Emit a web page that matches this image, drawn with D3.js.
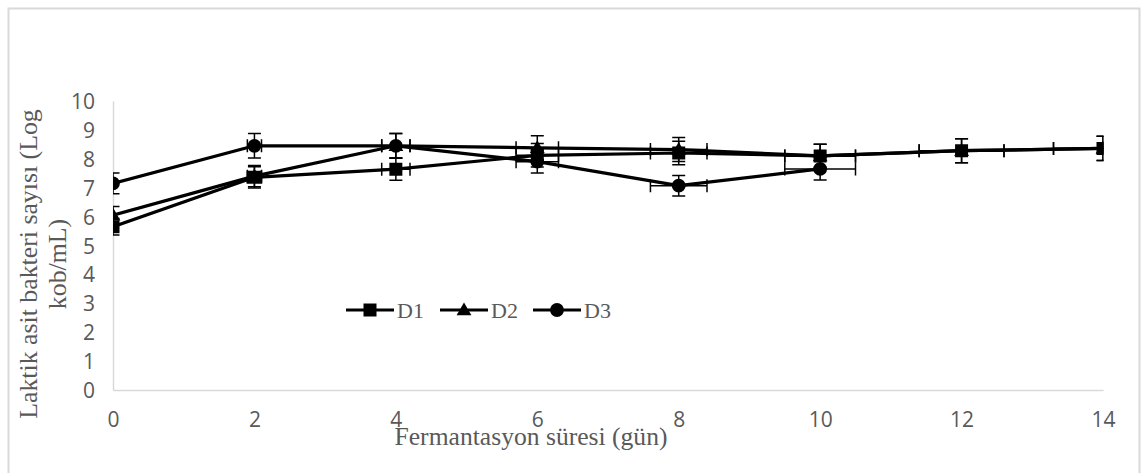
<!DOCTYPE html>
<html><head><meta charset="utf-8">
<script src="https://cdn.jsdelivr.net/npm/d3@7/dist/d3.min.js"></script>
<style>
html,body{margin:0;padding:0;background:#fff;}
svg{display:block;}
</style></head>
<body>
<svg id="chart" width="1143" height="473"></svg>
<script>
// ---- data ----
const days = [0, 2, 4, 6, 8, 10, 12, 14];
const seriesNames = ["D1", "D2", "D3"];
const valuesD1 = [5.65, 7.36, 7.64, 8.12, 8.2, 8.1, 8.28, 8.36];
const valuesD2 = [6.05, 7.4, 8.45, 8.38, 8.32, 8.1, 8.28, 8.36];
const valuesD3 = [7.15, 8.45, 8.45, 7.9, 7.07, 7.65];
const yTicks = [0, 1, 2, 3, 4, 5, 6, 7, 8, 9, 10];
const xTicks = [0, 2, 4, 6, 8, 10, 12, 14];
const errPercent = 5; // percentage error bars (x and y)
const yTitleLines = ["Laktik asit bakteri sayısı (Log", "kob/mL)"];
const xTitle = "Fermantasyon süresi (gün)";

const svg = d3.select("#chart");
const pLeft = 113, pRight = 1103, pTop = 101, pBottom = 390;

svg.append("rect").attr("x", 8.5).attr("y", 8.5).attr("width", 1131).attr("height", 475)
  .attr("fill", "#fff").attr("stroke", "#d9d9d9").attr("stroke-width", 2);

const x = d3.scaleLinear().domain([0, 14]).range([pLeft, pRight]);
const y = d3.scaleLinear().domain([0, 10]).range([pBottom, pTop]);

const xAxis = d3.axisBottom(x).tickValues(xTicks).tickSize(0).tickPadding(22).tickFormat(d3.format("d"));
const yAxis = d3.axisLeft(y).tickValues(yTicks).tickSize(0).tickPadding(18).tickFormat(d3.format("d"));

const gx = svg.append("g").attr("transform", `translate(0,${pBottom})`).call(xAxis);
const gy = svg.append("g").attr("transform", `translate(${pLeft},0)`).call(yAxis);
[gx, gy].forEach(g => {
  g.select(".domain").attr("stroke", "#d9d9d9").attr("stroke-width", 1.5);
  g.selectAll("text").attr("font-family", "'Open Sans', sans-serif").attr("font-size", 21).attr("fill", "#595959");
});
gx.selectAll("text").attr("dy", "0.71em");
gy.selectAll("text").attr("dy", "0.36em");

svg.append("clipPath").attr("id", "plotclip").append("rect")
  .attr("x", pLeft).attr("y", pTop - 20).attr("width", pRight - pLeft + 0.5).attr("height", pBottom - pTop + 40);

const plot = svg.append("g").attr("clip-path", "url(#plotclip)");

const series = [
  {name: seriesNames[0], vals: valuesD1, shape: "square"},
  {name: seriesNames[1], vals: valuesD2, shape: "triangle"},
  {name: seriesNames[2], vals: valuesD3, shape: "circle"}
];

const symbolFor = s => s === "square" ? d3.symbolSquare : s === "triangle" ? d3.symbolTriangle : d3.symbolCircle;
const sizeFor = s => s === "square" ? 13 * 13 : s === "triangle" ? 95 : 150;

function drawMarker(g, shape, cx, cy) {
  g.append("path").attr("d", d3.symbol().type(symbolFor(shape)).size(sizeFor(shape))())
    .attr("transform", `translate(${cx},${cy + (shape === "triangle" ? 1 : 0)})`)
    .attr("fill", "#000");
}

const lineGen = d3.line().x(d => x(d[0])).y(d => y(d[1]));
const cap = 6.5;

series.forEach(s => {
  const pts = s.vals.map((v, i) => [days[i], v]);
  const g = plot.append("g");
  pts.forEach(([dx, v]) => {
    const ey = v * errPercent / 100, ex = dx * errPercent / 100;
    const px = x(dx), py = y(v);
    const eb = g.append("g").attr("stroke", "#000").attr("stroke-width", 1.5).attr("fill", "none");
    eb.append("line").attr("x1", px).attr("x2", px).attr("y1", y(v + ey)).attr("y2", y(v - ey));
    eb.append("line").attr("x1", px - cap).attr("x2", px + cap).attr("y1", y(v + ey)).attr("y2", y(v + ey));
    eb.append("line").attr("x1", px - cap).attr("x2", px + cap).attr("y1", y(v - ey)).attr("y2", y(v - ey));
    if (ex > 0) {
      eb.append("line").attr("x1", x(dx - ex)).attr("x2", x(dx + ex)).attr("y1", py).attr("y2", py);
      eb.append("line").attr("x1", x(dx - ex)).attr("x2", x(dx - ex)).attr("y1", py - cap).attr("y2", py + cap);
      eb.append("line").attr("x1", x(dx + ex)).attr("x2", x(dx + ex)).attr("y1", py - cap).attr("y2", py + cap);
    }
  });
  g.append("path").attr("d", lineGen(pts)).attr("fill", "none").attr("stroke", "#000")
    .attr("stroke-width", 3.2).attr("stroke-linejoin", "round");
  pts.forEach(([dx, v]) => drawMarker(g, s.shape, x(dx), y(v)));
});

// legend
const legendY = 310;
const legendX = [346, 440, 533];
series.forEach((s, i) => {
  const lg = svg.append("g");
  const x0 = legendX[i];
  lg.append("line").attr("x1", x0).attr("x2", x0 + 48).attr("y1", legendY).attr("y2", legendY)
    .attr("stroke", "#000").attr("stroke-width", 3.2);
  drawMarker(lg, s.shape, x0 + 24, legendY);
  lg.append("text").attr("x", x0 + 51).attr("y", legendY).attr("dy", "0.35em")
    .attr("font-family", "'Liberation Serif', 'Times New Roman', serif").attr("font-size", 22)
    .attr("fill", "#595959").text(s.name);
});

// axis titles
svg.append("text").attr("x", 531).attr("y", 445).attr("text-anchor", "middle")
  .attr("font-family", "'Liberation Serif', 'Times New Roman', serif").attr("font-size", 25.6)
  .attr("fill", "#595959").text(xTitle);

const yt = svg.append("text").attr("transform", "translate(37,264) rotate(-90)").attr("text-anchor", "middle")
  .attr("font-family", "'Liberation Serif', 'Times New Roman', serif").attr("font-size", 25.8)
  .attr("fill", "#595959");
yTitleLines.forEach((t, i) => {
  yt.append("tspan").attr("x", 0).attr("dy", i === 0 ? 0 : 29).text(t);
});
</script>
</body></html>
